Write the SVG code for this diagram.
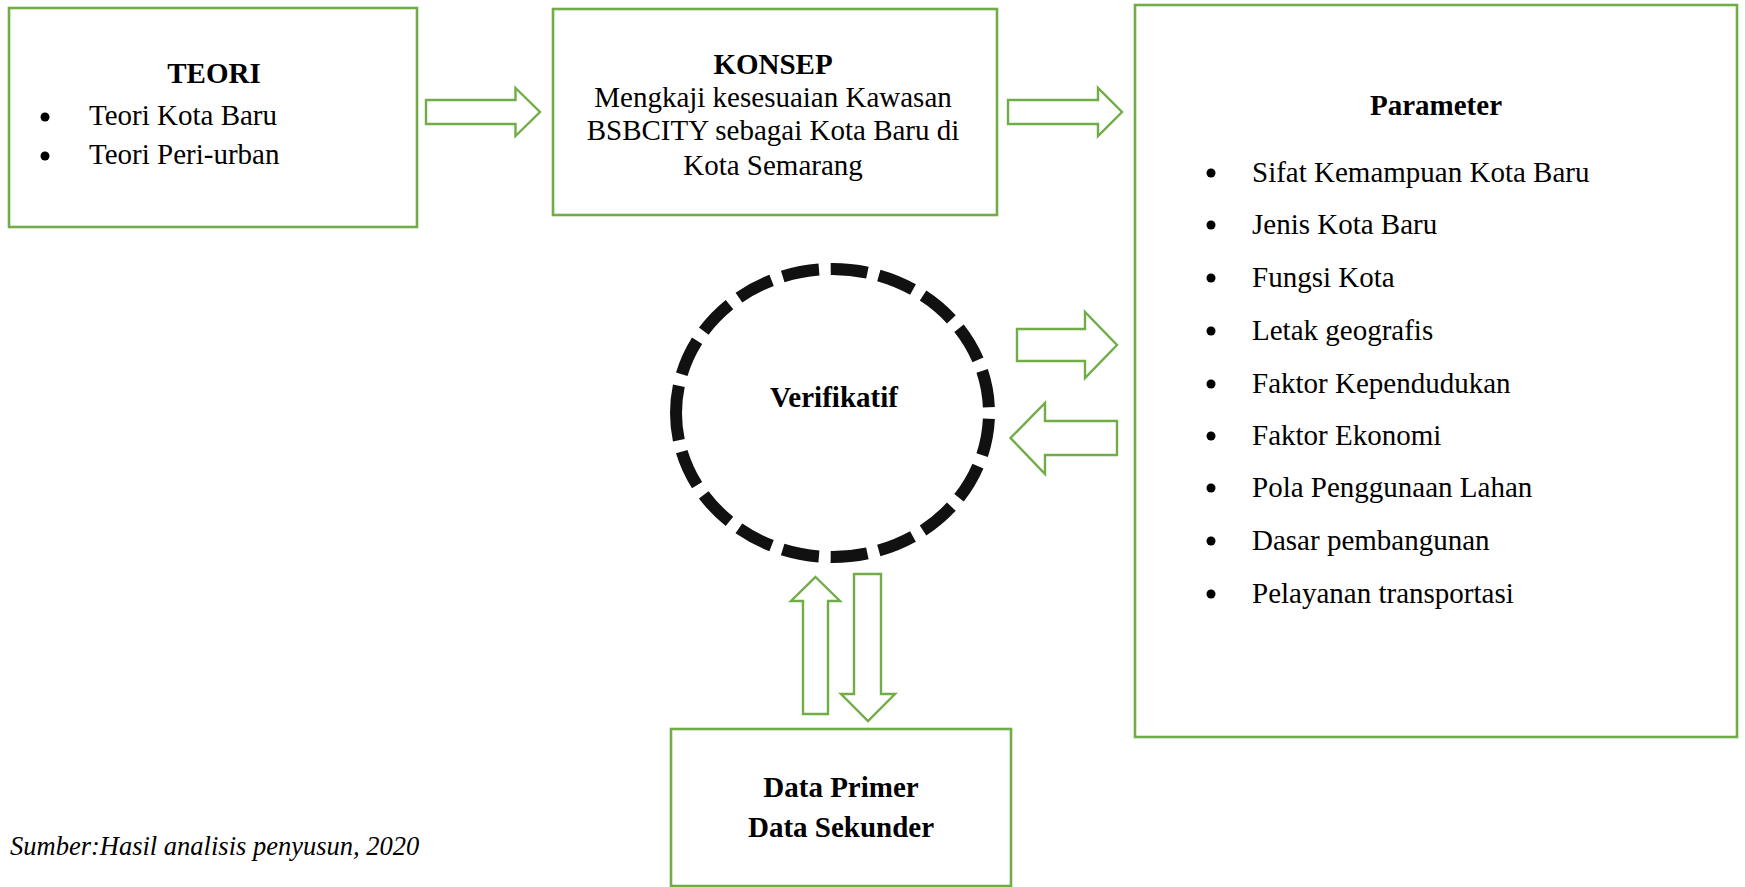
<svg xmlns="http://www.w3.org/2000/svg" width="1745" height="887" viewBox="0 0 1745 887">
<style>
.box{fill:#fff;stroke:#70AD47;stroke-width:2.6}
.arr{fill:#fff;stroke:#70AD47;stroke-width:2.4;stroke-linejoin:miter}
.t{font-family:"Liberation Serif","Times New Roman",serif;font-size:29px;fill:#000}
.b{font-weight:bold}
.c{text-anchor:middle}
.i{font-style:italic;font-size:26.5px}
.dot{fill:#000}
</style>
<rect width="1745" height="887" fill="#fff"/>
<g id="teori">
<rect class="box" x="9" y="8" width="408" height="219"/>
<text class="t b c" x="214" y="83">TEORI</text>
<circle class="dot" cx="45" cy="117" r="4.5"/>
<text class="t" x="89" y="125">Teori Kota Baru</text>
<circle class="dot" cx="45" cy="156" r="4.5"/>
<text class="t" x="89" y="164">Teori Peri-urban</text>
</g>
<g id="konsep">
<rect class="box" x="553" y="9" width="444" height="206"/>
<text class="t b c" x="773" y="74">KONSEP</text>
<text class="t c" x="773" y="107">Mengkaji kesesuaian Kawasan</text>
<text class="t c" x="773" y="140">BSBCITY sebagai Kota Baru di</text>
<text class="t c" x="773" y="175">Kota Semarang</text>
</g>
<g id="parameter">
<rect class="box" x="1135" y="5" width="602" height="732"/>
<text class="t b c" x="1436" y="115">Parameter</text>
<g>
<circle class="dot" cx="1211" cy="173" r="4.5"/><text class="t" x="1252" y="182">Sifat Kemampuan Kota Baru</text>
<circle class="dot" cx="1211" cy="225" r="4.5"/><text class="t" x="1252" y="234">Jenis Kota Baru</text>
<circle class="dot" cx="1211" cy="278" r="4.5"/><text class="t" x="1252" y="287">Fungsi Kota</text>
<circle class="dot" cx="1211" cy="331" r="4.5"/><text class="t" x="1252" y="340">Letak geografis</text>
<circle class="dot" cx="1211" cy="384" r="4.5"/><text class="t" x="1252" y="393">Faktor Kependudukan</text>
<circle class="dot" cx="1211" cy="436" r="4.5"/><text class="t" x="1252" y="445">Faktor Ekonomi</text>
<circle class="dot" cx="1211" cy="488" r="4.5"/><text class="t" x="1252" y="497">Pola Penggunaan Lahan</text>
<circle class="dot" cx="1211" cy="541" r="4.5"/><text class="t" x="1252" y="550">Dasar pembangunan</text>
<circle class="dot" cx="1211" cy="594" r="4.5"/><text class="t" x="1252" y="603">Pelayanan transportasi</text>
</g>
</g>
<g id="verifikatif">
<path d="M676,413 A156.5,144 0 1 1 989,413 A156.5,144 0 1 1 676,413 Z" fill="none" stroke="#111" stroke-width="12" pathLength="944" stroke-dasharray="37 11.74" stroke-dashoffset="9.5"/>
<text class="t b c" x="834" y="407">Verifikatif</text>
</g>
<g id="data">
<rect class="box" x="671" y="729" width="340" height="157"/>
<text class="t b c" x="841" y="797">Data Primer</text>
<text class="t b c" x="841" y="837">Data Sekunder</text>
</g>
<g id="connectors">
<polygon class="arr" points="426,100 515.5,100 515.5,88 540,112 515.5,136 515.5,124 426,124"/>
<polygon class="arr" points="1008,100 1098,100 1098,88 1122,112 1098,136 1098,124 1008,124"/>
<polygon class="arr" points="1017,329 1085,329 1085,312 1117,345 1085,378 1085,361 1017,361"/>
<polygon class="arr" points="1117,421 1045,421 1045,403 1010.5,438 1045,474 1045,455 1117,455"/>
<polygon class="arr" points="815.5,577 840,601 828,601 828,714 803,714 803,601 791,601"/>
<polygon class="arr" points="854,574 881,574 881,694 895,694 868,721 841,694 854,694"/>
</g>
<text id="source" class="t i" x="10" y="855">Sumber:Hasil analisis penyusun, 2020</text>
</svg>
